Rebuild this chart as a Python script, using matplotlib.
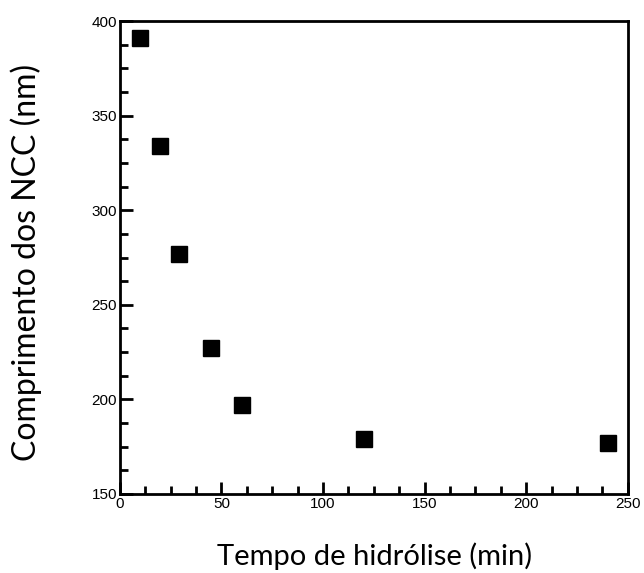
import matplotlib.pyplot as plt
from matplotlib.ticker import MultipleLocator

plt.rcParams.update({"font.family": "Liberation Sans", "font.size": 11})

# tempo de hidrolise (min) e comprimento dos NCC (nm)
tempo = [10, 20, 29, 45, 60, 120, 240]
comprimento = [391, 334, 277, 227, 197, 179, 177]

fig = plt.figure(figsize=(6.44, 5.73), dpi=100)
ax = fig.add_axes([0.186, 0.138, 0.789, 0.825])

ax.plot(tempo, comprimento, linestyle="none", marker="s", markersize=11,
        color="black")

ax.set_xlim(0, 250)
ax.set_ylim(150, 400)
ax.xaxis.set_major_locator(MultipleLocator(50))
ax.xaxis.set_minor_locator(MultipleLocator(12.5))
ax.yaxis.set_major_locator(MultipleLocator(50))
ax.yaxis.set_minor_locator(MultipleLocator(12.5))

ax.tick_params(which="both", direction="in", width=2, top=False, right=False,
               labelsize=11, pad=2)
ax.tick_params(which="major", length=9)
ax.tick_params(which="minor", length=6)
for s in ax.spines.values():
    s.set_linewidth(2)

ax.set_xlabel("Tempo de hidrólise (min)", fontfamily="Lato", fontsize=21,
              va="center")
ax.set_ylabel("Comprimento dos NCC (nm)", fontfamily="Lato", fontsize=23,
              va="center")
ax.xaxis.set_label_coords(0.502, -0.131)
ax.yaxis.set_label_coords(-0.185, 0.49)

fig.savefig("out.png", dpi=100)
